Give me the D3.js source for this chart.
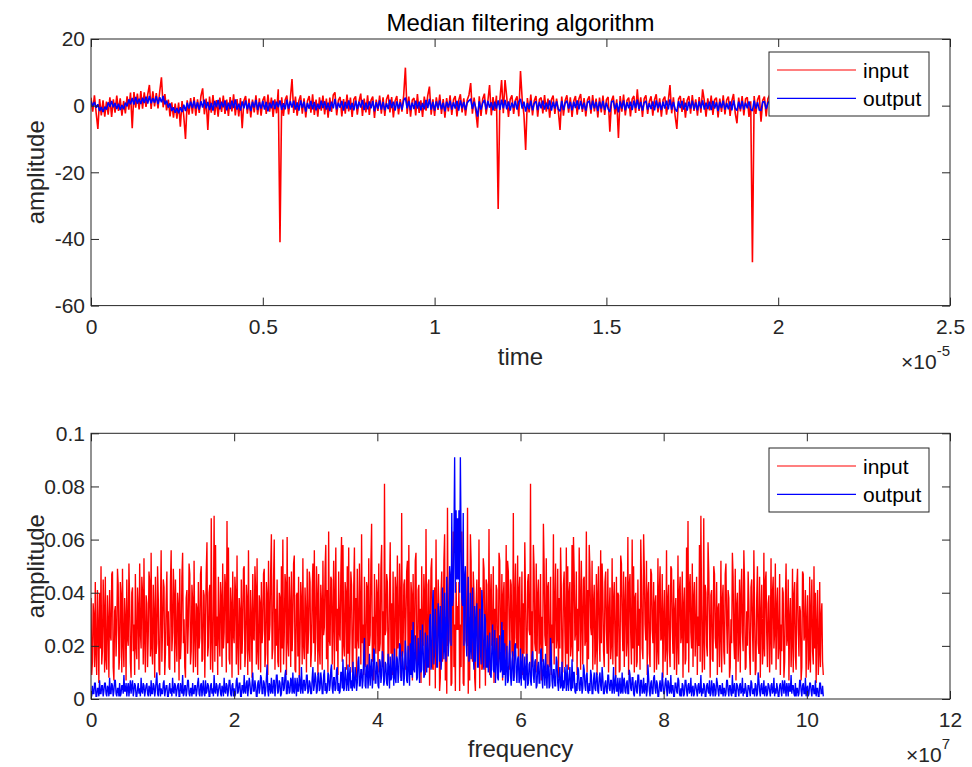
<!DOCTYPE html>
<html>
<head>
<meta charset="utf-8">
<script src="https://cdn.jsdelivr.net/npm/d3@7"></script>
<style>
  html, body { margin: 0; padding: 0; background: #ffffff; }
  svg { display: block; }
  text { font-family: "Liberation Sans", Arial, Helvetica, sans-serif; fill: #262626; }
</style>
</head>
<body>
<svg id="chart" width="972" height="767"></svg>
<script>
// ---------------------------------------------------------------
// Time-domain samples (amplitude), sample interval dt
// ---------------------------------------------------------------
const dt = 5e-8;

const inputSignal = [
  2.4, -1.8, 3.1, -2.2, -7.0, 2.0, -2.9, 1.6, -3.3, 1.2,
  -2.7, 2.5, -3.4, 1.9, -2.1, 3.0, -1.6, 2.2, -3.0, 1.4,
  -2.3, 2.8, -1.2, 3.9, -6.8, 4.1, -0.6, 3.6, -1.1, 4.4,
  -0.9, 4.0, -0.4, 3.3, 6.2, -1.0, 4.3, -0.2, 3.8, -0.8,
  4.2, 8.5, -0.5, 3.5, -1.4, 1.8, -3.2, 1.0, -3.6, 0.6,
  -3.9, 0.9, -6.3, 1.4, -3.1, -10.0, 1.6, -2.7, 2.3, -2.4,
  2.6, -3.0, 1.9, -2.2, 2.9, 5.2, -2.6, 2.1, -7.3, 2.7,
  -2.1, 3.2, -2.8, 1.7, -3.3, 2.4, -1.9, 3.0, -2.5, 1.8,
  -3.1, 2.6, -1.7, 3.4, -2.9, 2.0, -3.2, 2.3, -6.8, 1.5,
  2.9, -2.4, 2.1, -3.5, 1.8, -2.0, 3.1, -2.7, 2.2, -3.0,
  1.6, 2.8, -2.5, 3.3, -1.8, 2.4, -3.4, 1.9, -2.3, 4.9,
  -41.0, 2.5, -3.1, 1.7, 3.0, -2.6, 2.0, 8.0, -2.2, 2.7,
  -3.0, 1.5, 3.1, -2.4, 2.2, -3.5, 1.4, 2.9, -2.1, 3.4,
  -2.8, 1.8, -3.3, 2.5, -1.5, 3.0, -2.6, 2.1, -3.6, 2.4,
  -1.9, 3.2, 4.0, -2.9, 1.6, 2.6, -3.2, 2.0, -2.4, 3.3,
  -1.7, 2.4, -3.4, 1.9, 2.8, -2.7, 1.3, 3.6, -3.1, 2.1,
  -2.0, 3.1, -2.8, 1.6, 2.7, -3.7, 1.8, -1.6, 3.0, -2.4,
  2.5, -3.1, 1.9, 3.3, -2.0, 2.6, -3.5, 1.4, 2.9, -2.6,
  2.0, -1.8, 3.1, 11.4, -2.5, 2.7, -3.3, 1.7, 2.3, -2.9,
  3.5, -2.2, 1.6, -3.4, 2.7, -1.5, 3.0, 5.7, -2.7, 1.9,
  -3.1, 2.5, -1.3, 3.3, -2.5, 2.0, -3.6, 2.3, -1.7, 3.1,
  -2.8, 1.8, 2.9, -3.2, 1.5, 3.4, -2.0, 2.2, -3.0, 1.7,
  3.2, 6.8, -2.4, 2.4, -1.9, -6.6, 2.8, -3.1, 2.0, 3.6,
  -2.6, 1.4, 6.2, -2.9, 2.6, -1.6, 3.0, -31.0, 1.8, 7.7,
  -2.3, 7.7, 2.5, -3.4, 1.9, 3.1, -2.5, 1.6, 2.8, -3.2,
  10.4, 1.7, -2.7, -13.3, 2.3, -2.0, 3.3, -2.9, 1.5, 2.9,
  -3.3, 1.9, 2.4, -2.3, 3.2, -1.8, 2.1, -3.6, 1.8, 3.0,
  -2.5, 2.1, -1.5, -7.3, 2.7, -3.0, 1.6, 3.1, -2.1, 2.5,
  -3.4, 1.4, 2.9, -2.7, 2.0, 3.5, -1.9, 2.3, -3.2, 1.7,
  2.8, -2.4, 3.2, -1.7, 2.1, -3.5, 2.4, -2.0, 3.0, -2.8,
  1.8, 2.6, -7.8, 1.5, 3.0, -2.6, 1.9, -9.7, 2.9, -1.8,
  3.3, -2.9, 1.6, 2.4, -3.2, 2.0, 2.9, -2.2, 4.9, -1.6,
  2.5, -3.4, 2.1, 3.1, -2.5, 1.3, 2.8, -3.0, 1.7, 3.4,
  -2.0, 2.2, -3.3, 1.8, 2.7, -2.7, 1.4, 6.2, -2.3, 2.5,
  -3.1, -7.0, 2.0, 2.9, -1.9, 2.3, -3.6, 1.6, 2.9, -2.4,
  3.2, -1.6, 1.9, -3.0, 2.6, -2.1, 4.9, 1.5, -3.3, 2.2,
  -1.4, 3.0, -2.8, 1.8, 2.4, -3.5, 2.1, -1.9, 3.1, -2.6,
  1.7, 2.7, -3.1, 1.4, 3.5, -2.3, -5.3, 2.4, -1.7, 2.9,
  -2.9, 2.0, 2.5, -3.4, 1.3, -47.0, 2.9, -2.5, 1.8, 3.1,
  -4.8, 1.6, 2.7, -3.2, 2.1, 3.2, -2.0, 2.3, -3.0, 1.9
];

const outputSignal = [
  1.3, -0.2, 1.1, -0.6, 0.4, -1.6, -0.4, -1.9, -0.3, -1.2,
  1.0, -0.3, 1.4, -0.5, 0.8, -1.0, 0.6, -1.3, 0.2, -1.1,
  0.9, -0.2, 1.9, 0.4, 2.3, 0.3, 2.6, 0.6, 2.1, 0.5,
  2.4, 0.8, 2.7, 0.6, 2.9, 0.7, 2.2, 0.9, 2.8, 0.5,
  2.5, 1.0, 2.9, 0.4, 1.5, -0.6, 0.7, -1.6, -0.5, -2.1,
  -0.7, -2.3, -0.5, -1.9, 0.3, -1.6, 0.9, -0.9, 1.2, -0.7,
  1.5, -0.9, 1.0, -1.2, 1.3, -0.6, 1.8, -0.8, 1.1, -1.3,
  0.8, -1.5, 1.4, -0.4, 1.7, -1.1, 1.2, -0.5, 1.6, -1.4,
  0.9, -1.0, 1.5, -0.7, 1.9, -1.2, 0.6, -1.5, 1.3, -0.8,
  1.6, -1.1, 0.8, -1.6, 1.2, -0.6, 1.7, -1.3, 1.0, -0.9,
  1.4, -1.2, 1.1, -1.7, 0.9, -0.8, 1.5, -1.0, 1.2, -0.5,
  1.6, -1.3, 0.7, -1.1, 1.8, -0.9, 1.3, -0.6, 1.5, -1.2,
  1.0, -1.5, 1.6, -0.7, 1.2, -1.8, 0.8, -0.9, 1.4, -1.1,
  1.1, -1.4, 0.6, -1.0, 1.5, -0.7, 1.3, -1.2, 0.9, -1.6,
  1.2, -0.8, 2.0, -1.1, 0.9, -0.6, 1.4, -1.5, 1.1, -0.9,
  1.6, -1.2, 0.8, -1.4, 1.5, -1.0, 1.2, -0.6, 1.7, -1.3,
  0.9, -1.1, 1.3, -0.8, 1.4, -1.7, 1.0, -0.9, 1.6, -1.2,
  1.1, -1.4, 0.7, -1.0, 1.8, -0.7, 1.2, -1.5, 1.3, -0.9,
  1.0, -1.2, 1.6, 2.4, -0.8, 1.4, -1.3, 0.9, -1.0, 1.5,
  -0.9, 1.2, -1.4, 0.8, -1.1, 1.7, -0.7, 2.0, -1.2, 1.1,
  -1.5, 1.3, -0.8, 1.6, -1.1, 0.9, -1.7, 1.2, -0.6, 1.5,
  -1.2, 1.0, -0.9, 1.4, -1.5, 1.6, -0.8, 1.1, -1.3, 0.9,
  1.5, 1.9, -1.0, 1.2, -0.7, -3.3, 1.3, -1.2, 0.8, 1.7,
  -1.1, 1.4, -0.6, 1.0, -1.4, 1.2, -0.9, 1.6, -1.3, 1.8,
  -0.8, 1.7, -1.1, 1.3, -1.5, 0.9, -0.7, 1.4, -1.2, 1.1,
  2.0, -0.9, 1.2, -1.8, 0.8, -1.1, 1.5, -1.4, 0.7, 1.3,
  -1.3, 1.1, -0.8, 1.5, -1.2, 0.9, -1.0, 1.6, -1.5, 1.2,
  -0.9, 1.3, -1.1, -1.7, 1.4, -1.3, 0.8, 1.5, -0.9, 1.1,
  -1.4, 1.2, -0.7, 1.6, -1.1, 1.4, -1.0, 0.9, -1.5, 1.0,
  1.3, -1.2, 1.5, -0.8, 1.1, -1.6, 1.2, -0.9, 1.4, -1.3,
  0.9, -1.0, -1.9, 1.2, 1.4, -1.1, 0.8, -2.0, 1.3, -0.9,
  1.6, -1.4, 1.0, -0.8, 1.2, -1.3, 1.5, -0.7, 1.8, -1.0,
  1.1, -1.5, 0.9, 1.4, -1.2, 0.7, -1.0, 1.3, -1.4, 1.6,
  -0.8, 1.0, -1.3, 1.2, -0.9, 1.5, -1.1, 1.9, -1.2, 1.1,
  -1.0, -1.8, 1.3, -0.7, 1.4, -1.2, 0.9, -1.5, 1.2, -0.9,
  1.5, -1.1, 1.0, -1.4, 1.3, -0.8, 1.6, -1.2, 0.9, -1.0,
  1.2, -1.3, 1.4, -0.9, 1.0, -1.6, 1.1, -0.7, 1.5, -1.2,
  0.8, -1.1, 1.3, -1.4, 1.6, -0.8, -1.5, 1.2, -1.0, 1.4,
  -1.2, 0.9, -0.8, 1.3, -1.1, -1.6, 1.5, -0.9, 1.0, -1.3,
  -1.4, 1.1, 1.2, -1.0, 0.8, 1.4, -1.2, 0.9, -1.1, 1.0
];

// ---------------------------------------------------------------
// Magnitude spectra, bins 0..512 (values in units of 1e-3),
// bin spacing df. The spectrum of a real signal is symmetric
// about fs/2, so bins 513..1023 mirror bins 511..1.
// ---------------------------------------------------------------
const df = 1e5;

const inputSpectrumHalf = [
  38, 9, 14, 36, 31, 12, 44, 17, 9, 41, 27, 6, 40, 19, 50, 13, 18, 45, 33, 10,
  46, 15, 11, 39, 29, 8, 41, 24, 22, 47, 48, 12, 7, 33, 35, 16, 26, 49, 43, 11,
  16, 44, 39, 10, 49, 21, 12, 38, 30, 7, 45, 23, 20, 51, 37, 14, 8, 40, 42, 18,
  28, 9, 47, 20, 15, 42, 34, 11, 51, 25, 19, 46, 40, 13, 53, 22, 10, 39, 36, 12,
  24, 48, 44, 16, 55, 19, 13, 43, 32, 8, 46, 17, 21, 50, 38, 11, 9, 34, 56, 14,
  27, 45, 42, 9, 17, 37, 48, 20, 33, 12, 11, 44, 56, 18, 25, 49, 39, 10, 45, 23,
  14, 40, 35, 7, 49, 15, 22, 46, 55, 21, 30, 12, 8, 38, 41, 17, 28, 51, 47, 13,
  18, 43, 37, 10, 52, 24, 12, 36, 34, 9, 44, 19, 23, 47, 50, 14, 15, 41, 39, 8,
  29, 48, 59, 16, 20, 40, 43, 11, 68, 22, 10, 35, 69, 14, 58, 20, 31, 9, 46, 25,
  16, 44, 38, 12, 51, 19, 25, 47, 42, 10, 67, 21, 57, 15, 13, 42, 35, 8, 48, 24,
  21, 46, 40, 13, 54, 20, 9, 38, 33, 11, 45, 17, 27, 49, 50, 12, 18, 43, 37, 9,
  56, 19, 14, 41, 30, 8, 47, 23, 22, 50, 41, 13, 53, 18, 11, 39, 36, 10, 44, 21,
  26, 47, 49, 12, 17, 44, 39, 9, 52, 22, 28, 48, 62, 15, 19, 45, 60, 11, 34, 20,
  45, 14, 12, 40, 38, 10, 50, 19, 60, 13, 24, 47, 43, 9, 61, 22, 16, 46, 35, 12,
  48, 18, 29, 51, 54, 11, 10, 39, 40, 16, 46, 8, 21, 44, 37, 13, 53, 20, 15, 42,
  32, 10, 49, 17, 26, 48, 44, 12, 18, 41, 51, 21, 56, 14, 23, 50, 39, 9, 47, 19,
  13, 43, 36, 11, 52, 24, 27, 49, 58, 15, 41, 10, 63, 22, 20, 46, 45, 13, 30, 52,
  11, 38, 57, 18, 34, 9, 48, 25, 22, 47, 61, 14, 58, 20, 16, 44, 40, 11, 50, 17,
  57, 12, 25, 48, 43, 10, 14, 42, 57, 19, 38, 8, 49, 23, 19, 51, 35, 13, 62, 21,
  28, 9, 46, 16, 12, 44, 42, 11, 53, 20, 24, 50, 66, 14, 31, 7, 47, 22, 17, 45,
  39, 10, 51, 18, 21, 49, 58, 12, 33, 8, 81, 24, 26, 47, 44, 13, 15, 40, 59, 17,
  36, 9, 48, 21, 10, 46, 41, 14, 54, 19, 23, 51, 37, 8, 70, 16, 18, 43, 45, 11,
  30, 48, 52, 13, 58, 20, 14, 44, 39, 7, 47, 18, 25, 52, 55, 10, 12, 41, 43, 15,
  34, 6, 50, 22, 20, 47, 38, 9, 64, 17, 16, 43, 45, 5, 29, 49, 53, 12, 11, 38,
  42, 4, 60, 18, 24, 45, 36, 3, 8, 40, 48, 14, 19, 52, 62, 7, 31, 2, 72, 20,
  22, 48, 40, 5, 6, 37, 63, 12, 28, 3, 44, 26, 35
];

const outputSpectrumHalf = [
  3, 1, 5, 2, 2, 6, 6, 1, 1, 4, 4, 1, 7, 2, 2, 5, 5, 1, 3, 6,
  6, 2, 1, 5, 4, 1, 8, 2, 2, 6, 5, 1, 3, 7, 7, 2, 1, 4, 4, 1,
  6, 1, 2, 5, 5, 2, 9, 3, 3, 6, 1, 4, 6, 1, 4, 7, 2, 5, 7, 1,
  3, 6, 5, 1, 1, 4, 6, 2, 4, 1, 8, 3, 2, 6, 5, 1, 3, 5, 6, 2,
  1, 5, 4, 1, 7, 2, 2, 6, 5, 1, 3, 7, 10, 2, 1, 5, 6, 1, 4, 2,
  2, 6, 7, 1, 3, 5, 5, 1, 1, 4, 6, 2, 4, 1, 8, 3, 2, 6, 5, 1,
  3, 5, 6, 1, 1, 6, 4, 2, 9, 1, 2, 5, 5, 1, 3, 7, 7, 2, 1, 4,
  4, 1, 6, 2, 2, 5, 5, 1, 3, 6, 8, 2, 1, 5, 6, 1, 4, 7, 2, 1,
  7, 2, 3, 6, 5, 1, 1, 5, 6, 2, 4, 1, 9, 3, 2, 6, 5, 1, 3, 5,
  6, 2, 1, 5, 4, 1, 8, 3, 2, 6, 5, 1, 3, 7, 7, 2, 1, 5, 6, 1,
  4, 1, 2, 7, 8, 2, 3, 6, 6, 1, 1, 5, 5, 2, 9, 3, 2, 6, 7, 1,
  4, 8, 6, 2, 2, 6, 10, 3, 3, 7, 5, 1, 1, 6, 7, 2, 4, 9, 8, 2,
  2, 7, 6, 1, 3, 8, 13, 3, 1, 6, 5, 2, 8, 3, 2, 7, 7, 1, 4, 9,
  9, 2, 3, 7, 6, 1, 2, 8, 8, 3, 4, 9, 11, 2, 2, 7, 6, 2, 3, 8,
  7, 2, 10, 3, 2, 8, 5, 1, 8, 3, 3, 9, 6, 2, 12, 4, 2, 7, 7, 3,
  4, 9, 9, 2, 3, 7, 6, 2, 2, 8, 12, 3, 5, 10, 8, 2, 3, 9, 10, 3,
  4, 10, 7, 2, 2, 9, 11, 3, 6, 2, 3, 10, 9, 3, 5, 11, 13, 4, 2, 8,
  8, 3, 4, 11, 12, 3, 6, 2, 3, 10, 10, 4, 15, 3, 4, 12, 9, 3, 6, 13,
  3, 9, 12, 4, 7, 3, 14, 5, 4, 12, 9, 3, 6, 14, 16, 5, 5, 11, 11, 4,
  7, 16, 23, 5, 4, 12, 13, 4, 9, 17, 5, 11, 15, 4, 8, 19, 18, 6, 6, 14,
  12, 5, 4, 15, 14, 6, 9, 18, 16, 5, 7, 14, 13, 6, 5, 17, 11, 4, 16, 7,
  8, 17, 13, 5, 19, 8, 6, 16, 15, 6, 10, 21, 20, 7, 7, 18, 14, 5, 9, 22,
  17, 7, 6, 20, 12, 5, 21, 9, 26, 8, 29, 11, 10, 24, 18, 7, 8, 23, 15, 6,
  26, 10, 11, 28, 20, 8, 9, 25, 17, 10, 24, 12, 12, 30, 32, 11, 14, 35, 41, 13,
  18, 34, 27, 12, 12, 36, 30, 14, 35, 11, 16, 42, 25, 15, 40, 18, 14, 46, 33, 16,
  22, 50, 45, 20, 70, 35, 38, 60, 91, 40, 71, 45, 68
];

// Axis ticks
const timeTicks = [0, 0.5, 1, 1.5, 2, 2.5];          // ×1e-5 s
const amplitudeTicks = [-60, -40, -20, 0, 20];
const freqTicks = [0, 2, 4, 6, 8, 10, 12];             // ×1e7 Hz
const spectrumTicks = [0, 0.02, 0.04, 0.06, 0.08, 0.1];

const seriesNames = ["input", "output"];
const seriesColors = ["#ff0000", "#0000ff"];

// ---------------------------------------------------------------
const svg = d3.select("#chart");
const axisColor = "#262626";
const tickFont = 21;
const labelFont = 24;

function mirror(half) {
  return half.concat(half.slice(1, half.length - 1).reverse());
}

function drawPanel(cfg) {
  const { left, right, top, bottom } = cfg.box;
  const x = d3.scaleLinear().domain(cfg.xDomain).range([left, right]);
  const y = d3.scaleLinear().domain(cfg.yDomain).range([bottom, top]);
  const g = svg.append("g");

  const clipId = "clip-" + cfg.id;
  svg.append("clipPath").attr("id", clipId)
    .append("rect").attr("x", left).attr("y", top)
    .attr("width", right - left).attr("height", bottom - top);

  const plot = g.append("g").attr("clip-path", `url(#${clipId})`);
  const line = d3.line().x(d => x(d[0])).y(d => y(d[1]));
  cfg.series.forEach((s, i) => {
    plot.append("path")
      .datum(s)
      .attr("fill", "none")
      .attr("stroke", seriesColors[i])
      .attr("stroke-width", cfg.strokeWidth)
      .attr("stroke-linejoin", "miter")
      .attr("stroke-miterlimit", 2)
      .attr("d", line);
  });

  const fmt = d3.format("~g");
  const label = v => fmt(v).replace("\u2212", "-");
  const styleAxis = sel => {
    sel.select(".domain").remove();
    sel.selectAll(".tick line").attr("stroke", axisColor).attr("stroke-width", 1);
    sel.selectAll(".tick text").attr("fill", axisColor)
      .style("font-size", tickFont + "px")
      .style("font-family", '"Liberation Sans", Arial, Helvetica, sans-serif');
  };

  g.append("g").attr("transform", `translate(0,${bottom})`)
    .call(d3.axisBottom(x).tickValues(cfg.xTicks.map(v => v * cfg.xUnit))
      .tickSize(-8).tickPadding(13).tickFormat(d => label(+(d / cfg.xUnit).toFixed(6))))
    .call(styleAxis);
  g.append("g").attr("transform", `translate(0,${top})`)
    .call(d3.axisTop(x).tickValues(cfg.xTicks.map(v => v * cfg.xUnit))
      .tickSize(-8).tickFormat(""))
    .call(styleAxis);
  g.append("g").attr("transform", `translate(${left},0)`)
    .call(d3.axisLeft(y).tickValues(cfg.yTicks).tickSize(-8).tickPadding(6)
      .tickFormat(d => label(d)))
    .call(styleAxis);
  g.append("g").attr("transform", `translate(${right},0)`)
    .call(d3.axisRight(y).tickValues(cfg.yTicks).tickSize(-8).tickFormat(""))
    .call(styleAxis);

  // box
  g.append("rect")
    .attr("x", left).attr("y", top)
    .attr("width", right - left).attr("height", bottom - top)
    .attr("fill", "none").attr("stroke", axisColor).attr("stroke-width", 1);

  // axis labels
  g.append("text")
    .attr("x", (left + right) / 2).attr("y", cfg.xLabelY)
    .attr("text-anchor", "middle")
    .style("font-size", labelFont + "px")
    .text(cfg.xLabel);
  g.append("text")
    .attr("transform", `translate(${cfg.yLabelX},${(top + bottom) / 2}) rotate(-90)`)
    .attr("text-anchor", "middle")
    .style("font-size", labelFont + "px")
    .text("amplitude");

  // exponent marker
  const ex = g.append("text")
    .attr("x", right).attr("y", cfg.expY)
    .attr("text-anchor", "end")
    .style("font-size", tickFont + "px");
  ex.append("tspan").text("\u00d710");
  ex.append("tspan").attr("dy", -13).style("font-size", "15px").text(cfg.expText);

  // legend
  const lg = g.append("g").attr("transform", `translate(${cfg.legend[0]},${cfg.legend[1]})`);
  lg.append("rect").attr("x", 0).attr("y", 0).attr("width", 160).attr("height", 64)
    .attr("fill", "#ffffff").attr("stroke", axisColor).attr("stroke-width", 1);
  seriesNames.forEach((name, i) => {
    const yy = 18 + i * 28.3;
    lg.append("line").attr("x1", 8).attr("x2", 87).attr("y1", yy).attr("y2", yy)
      .attr("stroke", seriesColors[i]).attr("stroke-width", 1.2);
    lg.append("text").attr("x", 94).attr("y", yy + 8)
      .style("font-size", tickFont + "px").style("fill", "#000000").text(name);
  });

  if (cfg.title) {
    svg.append("text")
      .attr("x", (left + right) / 2).attr("y", 31)
      .attr("text-anchor", "middle")
      .style("font-size", labelFont + "px")
      .style("fill", "#000000")
      .text(cfg.title);
  }
}

// Top panel: time domain
drawPanel({
  id: "time",
  box: { left: 91, right: 950, top: 39, bottom: 305.6 },
  xDomain: [0, 2.5e-5], xUnit: 1e-5, xTicks: timeTicks,
  yDomain: [-60, 20], yTicks: amplitudeTicks,
  strokeWidth: 1.6,
  series: [
    inputSignal.map((v, i) => [i * dt, v]),
    outputSignal.map((v, i) => [i * dt, v])
  ],
  xLabel: "time", xLabelY: 365, yLabelX: 44,
  expText: "-5", expY: 369,
  legend: [769, 52],
  title: "Median filtering algorithm"
});

// Bottom panel: frequency domain
const inputSpectrum = mirror(inputSpectrumHalf);
const outputSpectrum = mirror(outputSpectrumHalf);
drawPanel({
  id: "freq",
  box: { left: 91, right: 950, top: 433.3, bottom: 699 },
  xDomain: [0, 12e7], xUnit: 1e7, xTicks: freqTicks,
  yDomain: [0, 0.1], yTicks: spectrumTicks,
  strokeWidth: 1.35,
  series: [
    inputSpectrum.map((v, k) => [k * df, v / 1000]),
    outputSpectrum.map((v, k) => [k * df, v / 1000])
  ],
  xLabel: "frequency", xLabelY: 757, yLabelX: 44,
  expText: "7", expY: 762,
  legend: [769, 448]
});
</script>
</body>
</html>
